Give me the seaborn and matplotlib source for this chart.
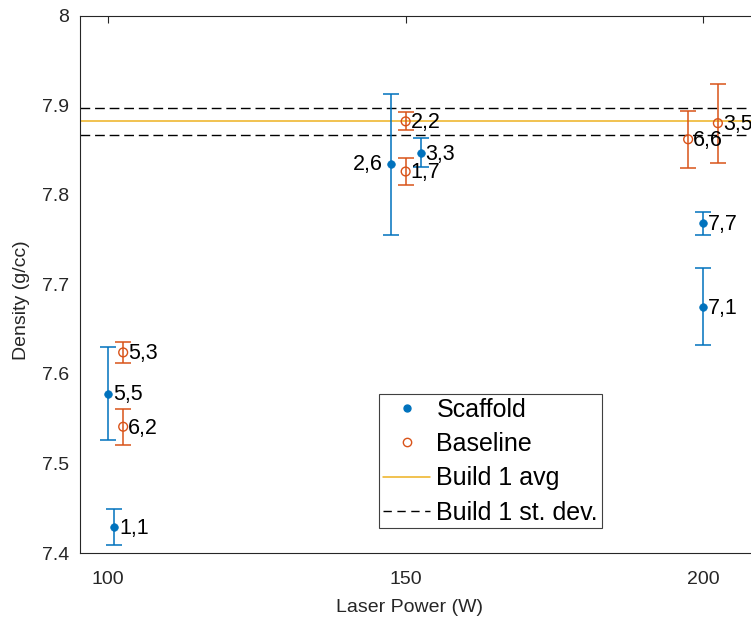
import numpy as np
import pandas as pd
import matplotlib
matplotlib.use("Agg")
import matplotlib.pyplot as plt
from matplotlib.lines import Line2D
import seaborn as sns

# ---- data ----
scaffold_x = [100, 101, 147.5, 152.5, 200, 200]
scaffold_y = [7.578, 7.429, 7.834, 7.847, 7.768, 7.675]
scaffold_err = [0.052, 0.020, 0.079, 0.016, 0.013, 0.043]
scaffold_labels = ["5,5", "1,1", "2,6", "3,3", "7,7", "7,1"]

baseline_x = [102.5, 102.5, 150, 150, 197.5, 202.5]
baseline_y = [7.624, 7.541, 7.882, 7.826, 7.862, 7.880]
baseline_err = [0.0115, 0.020, 0.010, 0.015, 0.032, 0.044]
baseline_labels = ["5,3", "6,2", "2,2", "1,7", "6,6", "3,5"]

build1_avg = 7.882
build1_std = 0.0152

x_ticks = [100, 150, 200]
y_ticks = [7.4, 7.5, 7.6, 7.7, 7.8, 7.9, 8.0]
y_tick_labels = ["7.4", "7.5", "7.6", "7.7", "7.8", "7.9", "8"]

BLUE = "#0072BD"
ORANGE = "#D95319"
YELLOW = "#EDB120"
AXC = "#262626"

sns.set_theme(style="white")
plt.rcParams["font.family"] = ["Liberation Sans", "DejaVu Sans"]

W, H = 751, 621
fig = plt.figure(figsize=(W / 100, H / 100), dpi=100)
left, right, top, bottom = 80, 751, 15.7, 553
ax = fig.add_axes([left / W, 1 - bottom / H, (right - left) / W, (bottom - top) / H])

sdf = pd.DataFrame({"x": scaffold_x, "y": scaffold_y})
bdf = pd.DataFrame({"x": baseline_x, "y": baseline_y})

# reference lines
ax.axhline(build1_avg, color=YELLOW, lw=1.1, zorder=1)
ax.axhline(build1_avg + build1_std, color="black", lw=1.0, ls=(0, (7, 3.5)), zorder=1)
ax.axhline(build1_avg - build1_std, color="black", lw=1.0, ls=(0, (7, 3.5)), zorder=1)

# error bars
ax.errorbar(scaffold_x, scaffold_y, yerr=scaffold_err, fmt="none", ecolor=BLUE,
            elinewidth=1.1, capsize=5.5, capthick=1.1, zorder=2)
ax.errorbar(baseline_x, baseline_y, yerr=baseline_err, fmt="none", ecolor=ORANGE,
            elinewidth=1.1, capsize=5.5, capthick=1.1, zorder=2)

# points
sns.scatterplot(data=sdf, x="x", y="y", ax=ax, color=BLUE, s=30, marker="o",
                edgecolor=BLUE, linewidth=0.5, zorder=3, legend=False)
sns.scatterplot(data=bdf, x="x", y="y", ax=ax, s=40, marker="o",
                facecolor="none", edgecolor=ORANGE, linewidth=1.0, zorder=3, legend=False)

# point labels
for xs, ys, labs in [(scaffold_x, scaffold_y, scaffold_labels),
                     (baseline_x, baseline_y, baseline_labels)]:
    for x, y, lab in zip(xs, ys, labs):
        if lab == "2,6":
            ax.annotate(lab, (x, y), xytext=(-6, 0), textcoords="offset points",
                        ha="right", va="center", fontsize=15.5, color="black", zorder=4)
        else:
            ax.annotate(lab, (x, y), xytext=(3.5, -1), textcoords="offset points",
                        ha="left", va="center", fontsize=15.5, color="black", zorder=4,
                        annotation_clip=False)

# axes limits & ticks
ax.set_xlim(95.24, 208.07)
ax.set_ylim(7.4, 8.0)
ax.set_xticks(x_ticks)
ax.set_xticklabels([str(t) for t in x_ticks])
ax.set_yticks(y_ticks)
ax.set_yticklabels(y_tick_labels)
ax.tick_params(axis="both", direction="in", length=5, width=0.8, colors=AXC,
               labelsize=14, top=True, pad=8)
ax.tick_params(axis="x", pad=13)
for s in ["left", "bottom", "top"]:
    ax.spines[s].set_color(AXC)
    ax.spines[s].set_linewidth(0.8)
    ax.spines[s].set_visible(True)
ax.spines["right"].set_visible(False)

ax.set_xlabel("Laser Power (W)", fontsize=14, color=AXC)
ax.set_ylabel("Density (g/cc)", fontsize=14, color=AXC)
ax.xaxis.set_label_coords((409 - left) / (right - left), -(607 - bottom) / (bottom - top))
ax.yaxis.set_label_coords(-(80 - 22) / (right - left), (bottom - 300) / (bottom - top))
ax.xaxis.label.set_va("center")
ax.yaxis.label.set_va("center")

handles = [
    Line2D([], [], ls="none", marker="o", ms=5, color=BLUE, mec=BLUE),
    Line2D([], [], ls="none", marker="o", ms=6, mfc="none", mec=ORANGE, mew=1.0),
    Line2D([], [], color=YELLOW, lw=1.1),
    Line2D([], [], color="black", lw=1.0, ls=(0, (6, 4))),
]
labels = ["Scaffold", "Baseline", "Build 1 avg", "Build 1 st. dev."]
leg = ax.legend(handles, labels, loc="upper left",
                bbox_to_anchor=((379 - left) / (right - left), (bottom - 394) / (bottom - top)),
                borderaxespad=0, fontsize=18, frameon=True, fancybox=False,
                framealpha=1, edgecolor="#404040", handlelength=1.9,
                handletextpad=0.25, labelspacing=0.41, borderpad=0.15)
leg.get_frame().set_linewidth(0.8)
for t in leg.get_texts():
    t.set_color("black")

fig.savefig("out.png", dpi=100)
